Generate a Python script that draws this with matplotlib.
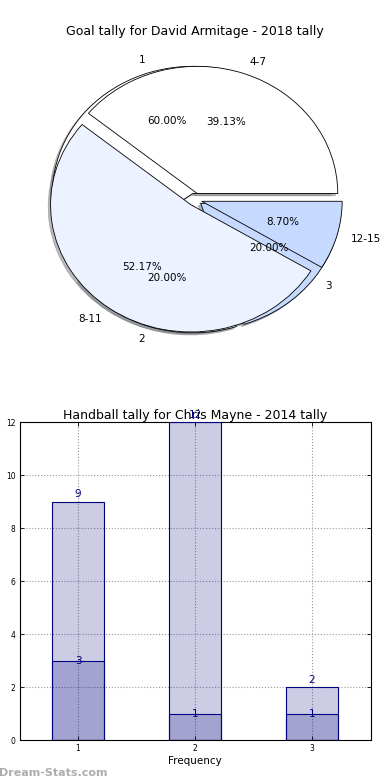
import matplotlib
matplotlib.use("Agg")
import matplotlib.pyplot as plt

# Data
pie1_labels = ['1', '2', '3']
pie1_values = [3, 1, 1]
pie2_labels = ['4-7', '8-11', '12-15']
pie2_values = [9, 12, 2]
pie_colors = ['#ffffff', '#ecf2ff', '#c6d9ff']

bar_x = [1, 2, 3]
bar_tick_labels = ['1', '2', '3']
bar_totals = [9, 12, 2]
bar_sub = [3, 1, 1]

pie_title = 'Goal tally for David Armitage - 2018 tally'
bar_title = 'Handball tally for Chris Mayne - 2014 tally'

fig = plt.figure(figsize=(3.9, 7.8), dpi=100)
fig.subplots_adjust(left=0.05, right=0.95, bottom=0.051, top=0.948, hspace=0.2)

ax1 = fig.add_subplot(211)
explode = [0.05, 0.05, 0.05]
for vals, labs in ((pie1_values, pie1_labels), (pie2_values, pie2_labels)):
    wedges, texts, autotexts = ax1.pie(vals, labels=labs, colors=pie_colors, explode=explode,
                                       autopct='%1.2f%%',
                                       shadow={'ox': -0.012, 'oy': -0.012, 'shade': 0.5},
                                       labeldistance=1.1,
                                       pctdistance=0.6, frame=False,
                                       wedgeprops=dict(edgecolor='black', linewidth=0.6),
                                       textprops=dict(fontsize=7.5))
ax1.set_aspect('auto')
ax1.set_xlim(-1.25, 1.25)
ax1.set_ylim(-1.25, 1.25)
ax1.set_axis_off()
ax1.set_title(pie_title, fontsize=9, pad=4)

ax2 = fig.add_subplot(212)
ax2.bar(bar_x, bar_totals, width=0.45, color='navy', alpha=0.2, zorder=2)
ax2.bar(bar_x, bar_sub, width=0.45, color='navy', alpha=0.2, zorder=2)
ax2.bar(bar_x, bar_totals, width=0.45, fill=False, edgecolor='navy', linewidth=0.8, zorder=3)
ax2.bar(bar_x, bar_sub, width=0.45, fill=False, edgecolor='navy', linewidth=0.8, zorder=3)
for x, t, s in zip(bar_x, bar_totals, bar_sub):
    ax2.text(x, t + 0.1, str(t), ha='center', va='bottom', color='navy', fontsize=7.5, zorder=4)
    ax2.text(x, s, str(s), ha='center', va='center', color='navy', fontsize=7.5, zorder=4)
ax2.set_xlim(0.5, 3.5)
ax2.set_ylim(0, 12)
ax2.set_xticks(bar_x)
ax2.set_xticklabels(bar_tick_labels)
ax2.set_yticks(range(0, 13, 2))
ax2.tick_params(labelsize=5.5, direction='in', length=3, width=0.6, top=True, right=True, pad=3)
ax2.grid(True, linestyle=':', color='#999999', linewidth=0.8, zorder=0)
ax2.set_axisbelow(True)
ax2.set_xlabel('Frequency', fontsize=7.5, labelpad=2)
ax2.set_title(bar_title, fontsize=9, pad=2)
for sp in ax2.spines.values():
    sp.set_linewidth(0.8)

fig.text(-0.003, 0.002, 'Dream-Stats.com', fontsize=8, color='#999999', ha='left', va='bottom',
         fontweight='bold', alpha=0.8)

fig.savefig('out.png', dpi=100)
